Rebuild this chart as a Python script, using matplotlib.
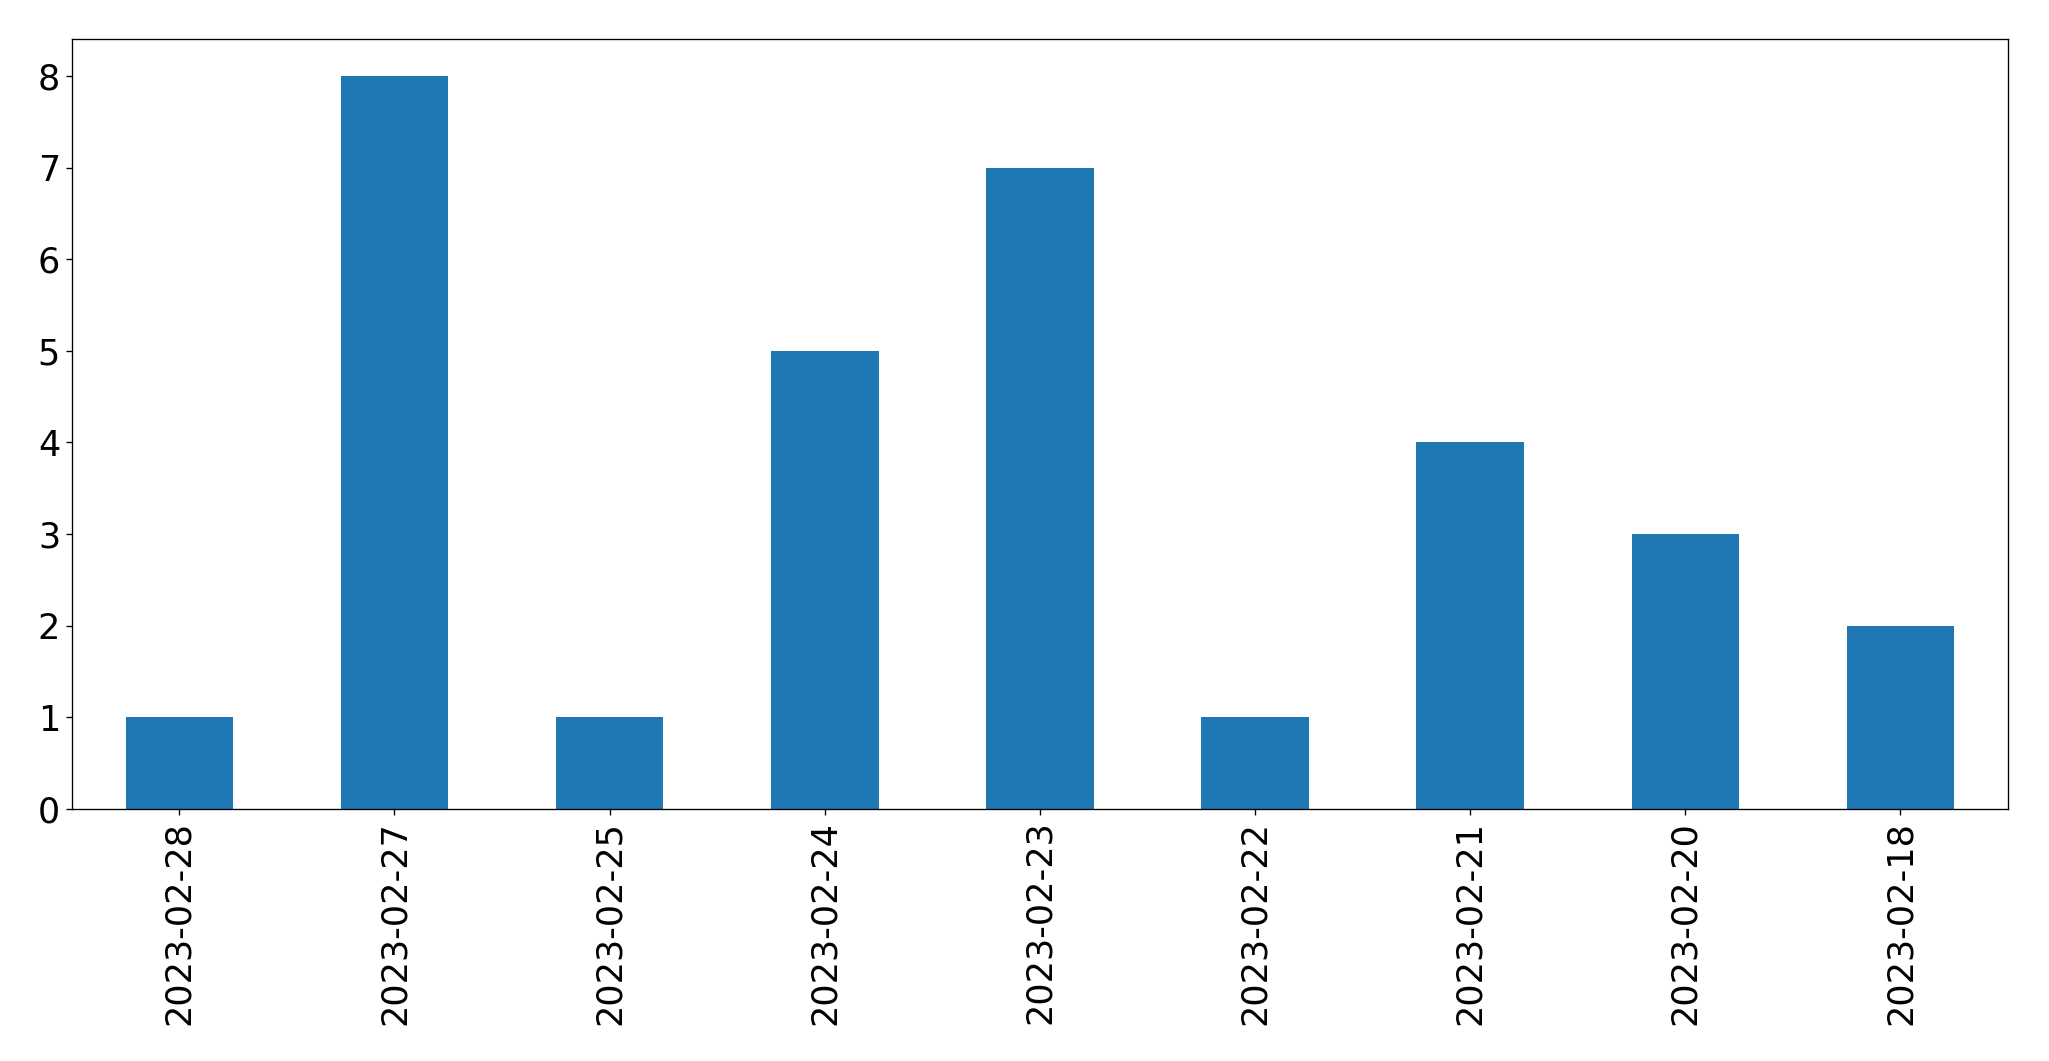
import matplotlib
matplotlib.use("Agg")
import matplotlib.pyplot as plt
import pandas as pd

dates = ["2023-02-28", "2023-02-27", "2023-02-25", "2023-02-24", "2023-02-23",
         "2023-02-22", "2023-02-21", "2023-02-20", "2023-02-18"]
counts = [1, 8, 1, 5, 7, 1, 4, 3, 2]

s = pd.Series(counts, index=dates)

fig = plt.figure(figsize=(2049 / 120, 1061 / 120), dpi=120)
ax = fig.add_axes([0.035, 0.2375, 0.945, 0.7255])
s.plot(kind="bar", ax=ax, color="#1f77b4")
ax.tick_params(axis="both", labelsize=21)
ax.set_xlabel("")

fig.savefig("out.png", dpi=120)
